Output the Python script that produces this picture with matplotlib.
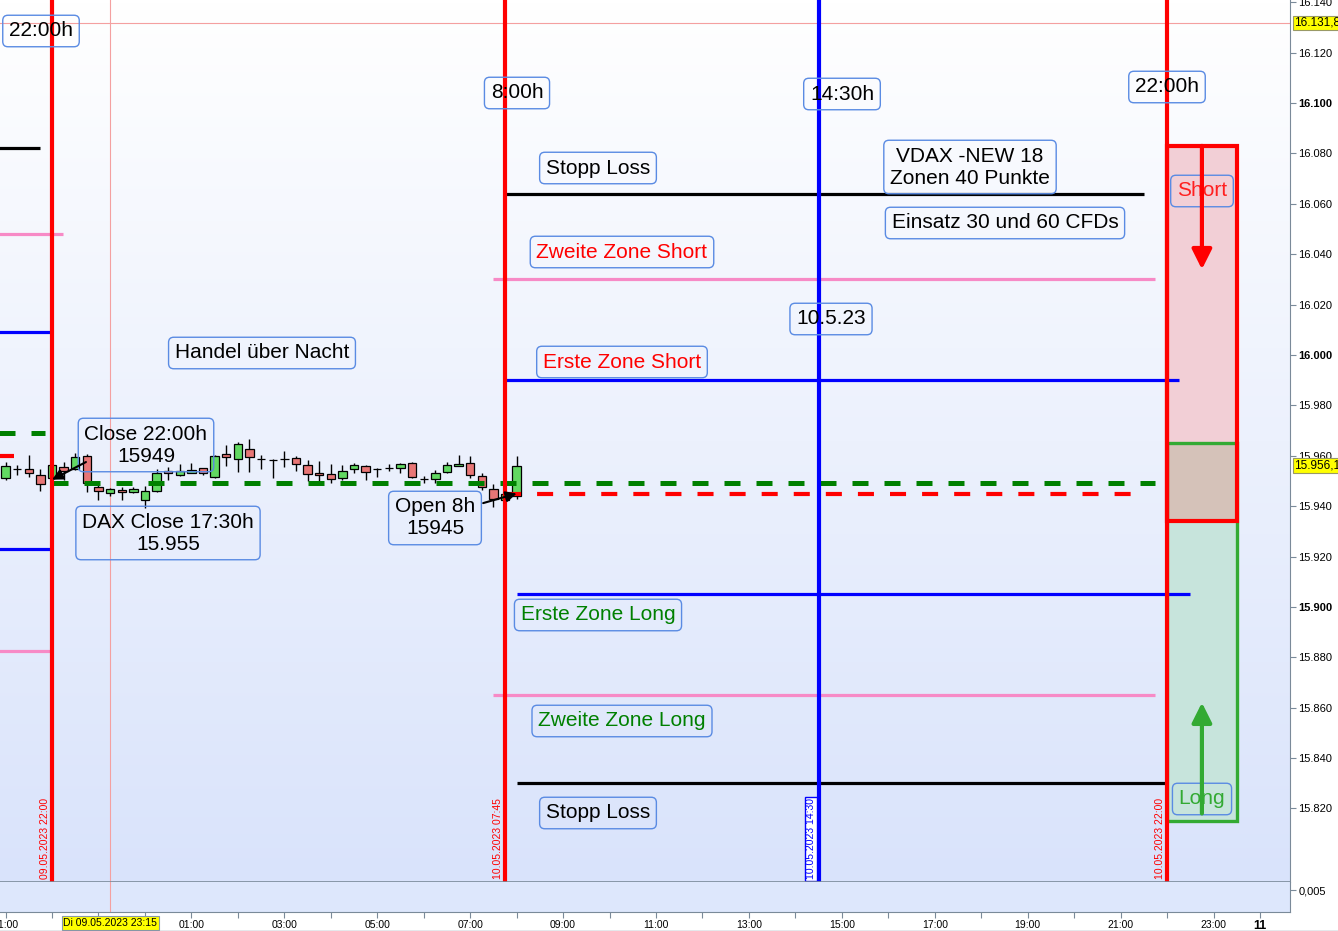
import numpy as np
import matplotlib
matplotlib.use('Agg')
import matplotlib.pyplot as plt
from matplotlib.colors import LinearSegmentedColormap
from matplotlib.patches import Rectangle
from matplotlib.lines import Line2D
from matplotlib.transforms import blended_transform_factory, offset_copy

plt.rcParams['font.family'] = ['Liberation Sans', 'DejaVu Sans']

# time axis: hours counted from 09.05.2023 00:00, 15 minute bars from 21:00
bar_first = 21.0
bar_len = 0.25
opens = [15951.3, 15954.9, 15954.9, 15952.5, 15951.3, 15955.6, 15954.9, 15960.0, 15947.7,
         15945.3, 15946.5, 15945.7, 15942.6, 15946.1, 15954.1, 15952.5, 15953.3, 15955.2,
         15951.7, 15960.8, 15958.8, 15962.8, 15958.8, 15958.4, 15958.8, 15959.2, 15956.4,
         15953.3, 15952.9, 15951.3, 15954.9, 15956.0, 15954.9, 15955.2, 15955.2, 15957.2,
         15950.9, 15950.9, 15953.7, 15956.0, 15957.2, 15952.1, 15946.9, 15942.6, 15944.2]
highs = [15957.6, 15956.4, 15960.4, 15954.9, 15957.6, 15957.6, 15961.2, 15960.8, 15949.3,
         15947.3, 15947.7, 15947.7, 15948.1, 15954.9, 15955.6, 15956.8, 15957.2, 15955.2,
         15960.4, 15964.4, 15965.5, 15966.7, 15960.4, 15958.8, 15962.0, 15960.0, 15958.4,
         15958.0, 15956.8, 15956.4, 15957.2, 15956.4, 15955.2, 15956.8, 15957.2, 15957.6,
         15952.1, 15954.5, 15957.6, 15960.4, 15960.0, 15953.3, 15948.9, 15946.0, 15960.0]
lows = [15950.5, 15952.5, 15951.7, 15946.1, 15950.5, 15950.5, 15954.5, 15945.7, 15942.6,
        15944.2, 15942.6, 15945.3, 15939.4, 15945.7, 15950.5, 15952.1, 15953.0, 15952.5,
        15951.3, 15956.0, 15953.7, 15953.7, 15954.9, 15951.3, 15955.6, 15954.1, 15950.1,
        15949.7, 15949.3, 15950.5, 15953.3, 15950.5, 15951.7, 15954.1, 15953.3, 15951.3,
        15949.3, 15949.3, 15953.3, 15956.0, 15951.3, 15946.5, 15939.8, 15941.0, 15943.0]
closes = [15956.0, 15954.9, 15953.3, 15948.9, 15956.4, 15954.1, 15959.6, 15949.3, 15946.1,
          15946.9, 15945.7, 15946.9, 15946.1, 15953.3, 15953.3, 15954.1, 15954.5, 15953.3,
          15960.0, 15959.6, 15964.8, 15959.6, 15958.8, 15958.4, 15958.8, 15956.8, 15952.9,
          15952.5, 15950.9, 15954.1, 15956.4, 15953.7, 15954.9, 15955.2, 15956.8, 15951.7,
          15950.9, 15953.3, 15956.4, 15956.8, 15952.5, 15947.7, 15943.0, 15945.0, 15956.1]

# zones for 10.05.2023
level_names = ['stop_short', 'zone2_short', 'zone1_short', 'close', 'open',
               'zone1_long', 'zone2_long', 'stop_long']
level_prices = [16064, 16030, 15990, 15949, 15945, 15905, 15865, 15830]
level_from = [31.75, 31.5, 31.75, 22.0, 31.75, 32.0, 31.5, 32.0]
level_to = [45.5, 45.75, 46.25, 45.75, 45.25, 46.5, 45.75, 46.0]

# zones of the day before, only the ends are still on screen
prev_names = ['stop_short', 'zone2_short', 'zone1_short', 'close', 'open', 'zone1_long', 'zone2_long']
prev_prices = [16082, 16048, 16009, 15969, 15960, 15923, 15882.5]
prev_to = [21.74, 22.24, 21.96, 21.85, 21.18, 21.96, 21.96]

vline_times = [22.0, 31.75, 38.5, 46.0]
vline_labels = ['09.05.2023 22:00', '10.05.2023 07:45', '10.05.2023 14:30', '10.05.2023 22:00']

box_times = [46.0, 47.5]
short_box = [15934, 16083]
long_box = [15815, 15965]
arrow_time = 46.75
short_target = 16034
long_target = 15862

cross_time = 23.25
cross_price = 16131.8
last_price = 15956.1

x_view = (20.88, 48.646)
y_view = (15790.8, 16140.9)
y_ticks = [15820, 15840, 15860, 15880, 15900, 15920, 15940, 15960, 15980,
           16000, 16020, 16040, 16060, 16080, 16100, 16120, 16140]

styles = {
    'stop_short': dict(color='black', lw=2.3),
    'zone2_short': dict(color='#f78ac6', lw=2.3),
    'zone1_short': dict(color='#0000ff', lw=2.3),
    'close': dict(color='#008000', lw=3.6, ls=(0, (3.2, 3.2))),
    'open': dict(color='#ff0000', lw=3.0, ls=(0, (3.85, 3.85))),
    'zone1_long': dict(color='#0000ff', lw=2.3),
    'zone2_long': dict(color='#f78ac6', lw=2.3),
    'stop_long': dict(color='black', lw=2.3),
}

W, H = 1338, 931
fig = plt.figure(figsize=(W / 100, H / 100), dpi=100)
ax = fig.add_axes([0, 49 / H, 1290 / W, 882 / H])
ax2 = fig.add_axes([0, 19 / H, 1290 / W, 30 / H], sharex=ax)

# background gradient
bg = LinearSegmentedColormap.from_list('bg', ['#d9e3fb', '#ffffff'])
ax.imshow(np.linspace(0, 1, 256).reshape(-1, 1), origin='lower', aspect='auto',
          extent=[x_view[0], x_view[1], y_view[0], y_view[1]], cmap=bg, zorder=0)

# crosshair
ax.axhline(cross_price, color='#f4a0a0', lw=0.8, zorder=1)
ax.axvline(cross_time, color='#f4a0a0', lw=0.8, zorder=1)
ax2.axvline(cross_time, color='#f4a0a0', lw=0.8, zorder=1)

# candles
o = np.array(opens)
c = np.array(closes)
times = bar_first + bar_len * np.arange(len(o))
ax.vlines(times, lows, highs, color='black', lw=1, zorder=3)
ax.bar(times, np.abs(c - o), bottom=np.minimum(o, c), width=0.18,
       color=np.where(c >= o, '#62d962', '#e87676'), edgecolor='black', lw=0.9, zorder=4)

# short / long boxes
ax.add_patch(Rectangle((box_times[0], long_box[0]), box_times[1] - box_times[0],
                       long_box[1] - long_box[0], fc='#c7e4dc', ec='none', zorder=4.5))
ax.add_patch(Rectangle((box_times[0], short_box[0]), box_times[1] - box_times[0],
                       short_box[1] - short_box[0], fc='#f2cfd6', ec='none', zorder=4.5))
ax.add_patch(Rectangle((box_times[0], short_box[0]), box_times[1] - box_times[0],
                       long_box[1] - short_box[0], fc='#d5c2b9', ec='none', zorder=4.5))
ax.add_patch(Rectangle((box_times[0], long_box[0]), box_times[1] - box_times[0],
                       long_box[1] - long_box[0], fill=False, ec='#33aa33', lw=2.4, zorder=6.2))
ax.add_patch(Rectangle((box_times[0], short_box[0]), box_times[1] - box_times[0],
                       short_box[1] - short_box[0], fill=False, ec='#ff0000', lw=3.0, zorder=6.3))

# zone lines
for name, p, t0, t1 in zip(level_names, level_prices, level_from, level_to):
    st = styles[name]
    ax.plot([t0, t1], [p, p], color=st['color'], lw=st['lw'], ls=st.get('ls', '-'),
            solid_capstyle='butt', dash_capstyle='butt', zorder=5)
for name, p, t1 in zip(prev_names, prev_prices, prev_to):
    st = styles[name]
    if name == 'open':
        st = dict(color='#ff0000', lw=3.0)
    ax.plot([x_view[0] - 1, t1], [p, p], color=st['color'], lw=st['lw'], ls=st.get('ls', '-'),
            solid_capstyle='butt', dash_capstyle='butt', zorder=5)

# vertical session lines
vcolors = ['#ff0000', '#ff0000', '#0000ff', '#ff0000']
xtrans = blended_transform_factory(ax.transData, ax.transAxes)
for t, lab, col in zip(vline_times, vline_labels, vcolors):
    ax.axvline(t, color=col, lw=3, zorder=7)
    kw = {}
    if col == '#0000ff':
        kw['bbox'] = dict(boxstyle='square,pad=0.12', fc='white', ec=col, lw=1)
    ax.text(t, 0.003, lab, transform=offset_copy(xtrans, fig, x=-2.5, units='dots'),
            rotation=90, ha='right', va='bottom', fontsize=7.5, color=col, zorder=8, **kw)

# text boxes (positions in screen pixels of the chart pane)
def pos(px, py):
    return px / 1290, 1 - py / 882

box = dict(boxstyle='round,pad=0.3,rounding_size=0.25', fc='none', ec='#5a8be3', lw=1)
labels = [
    ('22:00h', 41, 31, 'black'),
    ('8:00h', 517, 93, 'black'),
    ('14:30h', 842, 94, 'black'),
    ('22:00h', 1167, 87, 'black'),
    ('Stopp Loss', 598, 168, 'black'),
    ('VDAX -NEW 18\nZonen 40 Punkte', 970, 167, 'black'),
    ('Einsatz 30 und 60 CFDs', 1005, 223, 'black'),
    ('Zweite Zone Short', 622, 252, '#ff0000'),
    ('10.5.23', 831, 319, 'black'),
    ('Handel über Nacht', 262, 353, 'black'),
    ('Erste Zone Short', 622, 362, '#ff0000'),
    ('Close 22:00h\n15949', 146, 445, 'black'),
    ('DAX Close 17:30h\n15.955', 168, 533, 'black'),
    ('Open 8h\n15945', 435, 518, 'black'),
    ('Erste Zone Long', 598, 615, '#008000'),
    ('Zweite Zone Long', 622, 721, '#008000'),
    ('Stopp Loss', 598, 813, 'black'),
    ('Short', 1202, 191, '#ff2020'),
    ('Long', 1202, 799, '#33aa33'),
]
for txt, px, py, col in labels:
    x, y = pos(px, py)
    ax.text(x, y, txt, transform=ax.transAxes, ha='center', va='center', ma='center',
            fontsize=15, color=col, bbox=box, zorder=9)

# arrows
ax.annotate('', xy=(arrow_time, short_target), xytext=(arrow_time, short_box[1]),
            arrowprops=dict(arrowstyle='-|>', color='#ff0000', lw=3, mutation_scale=30,
                            shrinkA=0, shrinkB=0), zorder=10)
ax.annotate('', xy=(arrow_time, long_target), xytext=(arrow_time, long_box[0] + 3),
            arrowprops=dict(arrowstyle='-|>', color='#33aa33', lw=3, mutation_scale=30,
                            shrinkA=0, shrinkB=0), zorder=10)
ax.annotate('', xy=(vline_times[0], level_prices[3] + 1.5), xytext=(22.73, 15957.5),
            arrowprops=dict(arrowstyle='-|>', color='black', lw=1.5, mutation_scale=16,
                            shrinkA=0, shrinkB=0), zorder=10)
ax.annotate('', xy=(32.0, level_prices[4]), xytext=(31.28, 15941.2),
            arrowprops=dict(arrowstyle='-|>', color='black', lw=1.5, mutation_scale=16,
                            shrinkA=0, shrinkB=0), zorder=10)

# price axis
ax.set_xlim(*x_view)
ax.set_ylim(*y_view)
ax.yaxis.tick_right()
ax.set_yticks(y_ticks)
ax.set_yticklabels([f'{v:,}'.replace(',', '.') for v in y_ticks], fontsize=8)
for lab, v in zip(ax.get_yticklabels(), y_ticks):
    if v % 100 == 0:
        lab.set_fontweight('bold')
ax.tick_params(axis='y', length=4, color='#7a8a99', pad=2)
ax.tick_params(axis='x', bottom=False, labelbottom=False)
for s in ['top', 'left', 'bottom']:
    ax.spines[s].set_visible(False)
ax.spines['right'].set_color('#7a8a99')

ytrans = blended_transform_factory(ax.transAxes, ax.transData)
for p in [cross_price, last_price]:
    ax.text(1.0, p, f'{p:,.1f}'.replace(',', 'X').replace('.', ',').replace('X', '.'),
            transform=offset_copy(ytrans, fig, x=4, units='dots'), ha='left', va='center',
            fontsize=8.5, bbox=dict(boxstyle='square,pad=0.12', fc='#ffff00', ec='#999966', lw=0.8),
            zorder=10, clip_on=False)

# lower pane
ax2.set_facecolor('#dde7fc')
ax2.set_ylim(0, 1)
ax2.yaxis.tick_right()
ax2.set_yticks([0.73])
ax2.set_yticklabels(['0,005'], fontsize=8)
ax2.tick_params(axis='y', length=4, color='#7a8a99', pad=2)
for s in ['top', 'left']:
    ax2.spines[s].set_visible(False)
ax2.spines['right'].set_color('#7a8a99')
ax2.spines['bottom'].set_color('#7a8a99')
ax.axhline(y_view[0], color='#7a8a99', lw=1.2, zorder=11)

hours = list(range(21, 49))
ax2.set_xticks(hours)
tick_text = []
for h in hours:
    if h == 48:
        tick_text.append('11')
    elif h % 2 == 1 and h != 23:
        tick_text.append(f'{h % 24:02d}:00')
    else:
        tick_text.append('')
ax2.set_xticklabels(tick_text, fontsize=7.5)
ax2.get_xticklabels()[-1].set_fontweight('bold')
ax2.get_xticklabels()[-1].set_fontsize(9)
ax2.tick_params(axis='x', length=4, color='#7a8a99', pad=2)
ax2.set_xlim(*x_view)
btrans = blended_transform_factory(ax2.transData, ax2.transAxes)
ax2.text(cross_time, 0, 'Di 09.05.2023 23:15', transform=offset_copy(btrans, fig, y=-11, units='dots'),
         ha='center', va='center', fontsize=7.5,
         bbox=dict(boxstyle='square,pad=0.15', fc='#ffff00', ec='#8899aa', lw=0.8), zorder=10)

fig.add_artist(Line2D([0, 1], [0.5 / H, 0.5 / H], transform=fig.transFigure, color='#7a8a99', lw=1))

fig.savefig('out.png', dpi=100)
